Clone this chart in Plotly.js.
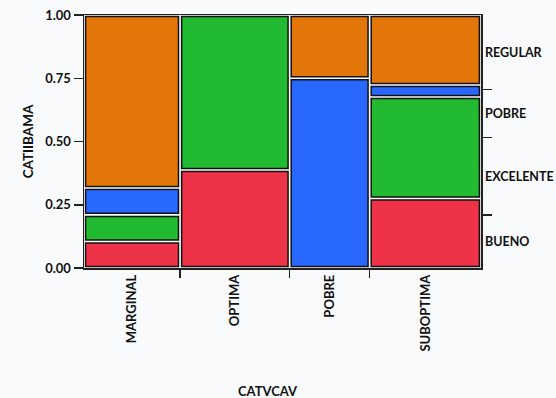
<!DOCTYPE html>
<html><head><meta charset="utf-8">
<script src="https://cdn.plot.ly/plotly-3.0.1.min.js"></script>
<style>body{margin:0;background:#f8fafb}</style>
</head><body><div id="chart" style="width:556px;height:398px"></div>
<script>
// Columns (CATVCAV) and their relative widths (share of observations)
const categories = ["MARGINAL", "OPTIMA", "POBRE", "SUBOPTIMA"];
const columnShare = [0.242, 0.276, 0.2015, 0.2805];
// Row levels (CATIIBAMA), bottom to top
const levels = ["BUENO", "EXCELENTE", "POBRE", "REGULAR"];
const bueno     = [0.105, 0.387, 0.00, 0.275];
const excelente = [0.105, 0.613, 0.00, 0.401];
const pobre     = [0.106, 0.00,  0.75, 0.047];
const regular   = [0.684, 0.00,  0.25, 0.277];
const colors = ["#ee3349", "#22ba30", "#2968ff", "#e37608"];

const series = [bueno, excelente, pobre, regular];
// column centres and boundaries on a 0..1 axis
const centers = [], bounds = [];
let acc = 0;
columnShare.forEach((w, i) => { centers.push(acc + w / 2); acc += w; if (i < columnShare.length - 1) bounds.push(acc); });
const gapX = 0.008, gapY = 0.012;

const traces = [];
const cum = categories.map(() => 0);
series.forEach((vals, s) => {
  const base = [], h = [];
  vals.forEach((v, i) => {
    if (v > 0) { base.push(cum[i] + gapY / 2); h.push(v - gapY); } else { base.push(null); h.push(null); }
    cum[i] += v;
  });
  traces.push({
    type: "bar", x: centers, y: h, base: base, width: columnShare.map(w => w - gapX),
    name: levels[s], marker: {color: colors[s], line: {color: "#111", width: 1.5}},
    hoverinfo: "skip", showlegend: false
  });
});
// marginal shares of each level for the right axis
const marg = series.map(vals => vals.reduce((a, v, i) => a + v * columnShare[i], 0));
const mids = [], rb = [];
let c = 0;
marg.forEach((m, i) => { mids.push(c + m / 2); c += m; if (i < marg.length - 1) rb.push(c); });

const fnt = {family: "Lato, 'Open Sans', sans-serif", size: 13, color: "#111", weight: 700};
// dummy traces to activate overlay axes
traces.push({type: "scatter", x: [0.5], y: [0.5], xaxis: "x2", yaxis: "y2", mode: "markers", marker: {opacity: 0}, showlegend: false, hoverinfo: "skip"});
traces.push({type: "scatter", x: [0.5], y: [0.5], xaxis: "x2", yaxis: "y3", mode: "markers", marker: {opacity: 0}, showlegend: false, hoverinfo: "skip"});

const layout = {
  width: 556, height: 398,
  margin: {l: 84, r: 75, t: 15, b: 130},
  paper_bgcolor: "#f8fafb", plot_bgcolor: "#f8fafb",
  barmode: "overlay", font: fnt,
  xaxis: {range: [0, 1], tickvals: centers, ticktext: categories, tickangle: -90, ticks: "",
          showgrid: false, zeroline: false, showline: true, linecolor: "#222", linewidth: 1.5,
          mirror: true, tickfont: fnt, ticklabelstandoff: 0},
  xaxis2: {range: [0, 1], overlaying: "x", side: "bottom", tickvals: bounds, ticks: "outside", ticklen: 9,
           tickwidth: 1.5, tickcolor: "#222", showticklabels: false, showgrid: false, zeroline: false},
  yaxis: {range: [0, 1], tickvals: [0, 0.25, 0.5, 0.75, 1], tickformat: ".2f", ticks: "outside", ticklen: 9,
          tickwidth: 1.5, tickcolor: "#222", showgrid: false, zeroline: false, showline: true, linecolor: "#222",
          linewidth: 1.5, mirror: true, tickfont: fnt,
          title: {text: "CATIIBAMA", font: {...fnt, size: 13.5}, standoff: 8}},
  yaxis2: {range: [0, 1], overlaying: "y", side: "right", tickvals: mids, ticktext: levels, ticks: "",
           showgrid: false, zeroline: false, tickfont: {...fnt, size: 12.5}, ticklabelstandoff: 3},
  yaxis3: {range: [0, 1], overlaying: "y", side: "right", tickvals: rb, ticks: "outside", ticklen: 10,
           tickwidth: 1.5, tickcolor: "#222", showticklabels: false, showgrid: false, zeroline: false},
  annotations: [{text: "CATVCAV", xref: "paper", yref: "paper", x: 0.463, y: -0.486,
                 xanchor: "center", yanchor: "middle", showarrow: false, font: fnt}]
};
Plotly.newPlot("chart", traces, layout, {displayModeBar: false, staticPlot: true});
</script></body></html>
